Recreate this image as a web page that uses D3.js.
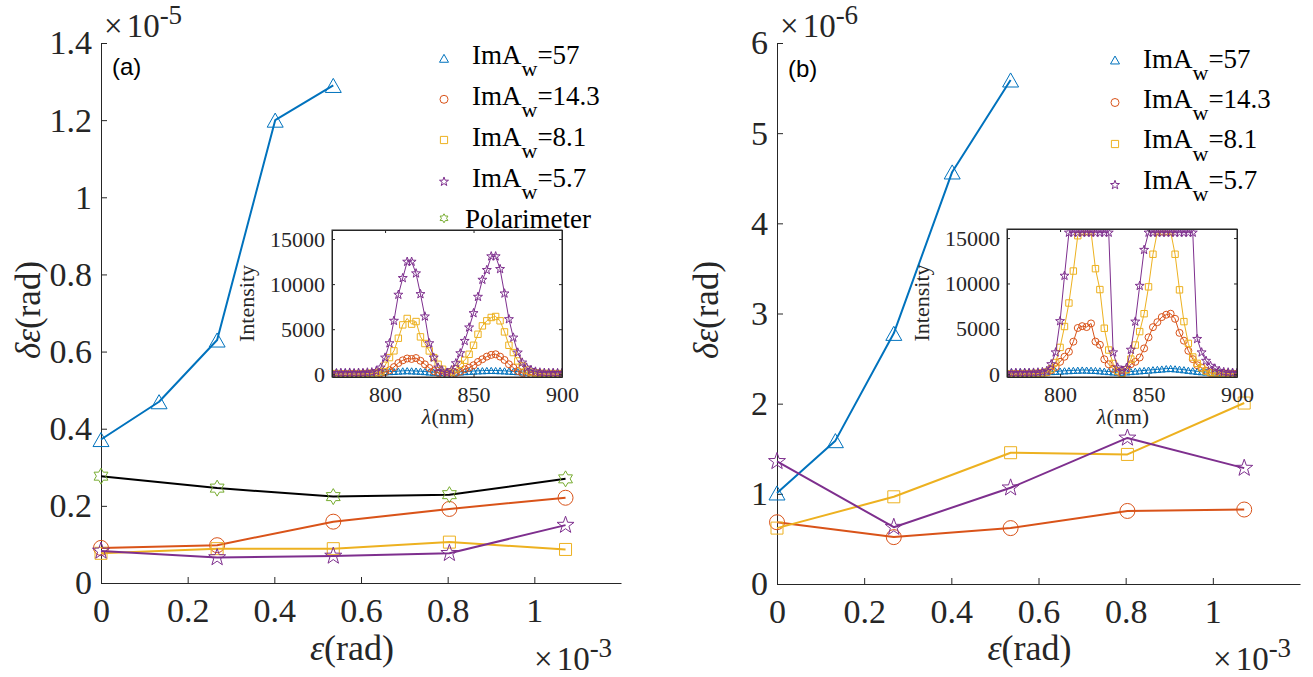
<!DOCTYPE html>
<html><head><meta charset="utf-8">
<script src="https://cdn.jsdelivr.net/npm/d3@7"></script>
<style>
body{margin:0;background:#fff;}
svg{display:block;}
</style></head>
<body>
<svg id="chart" width="1313" height="677"></svg>
<script>
// ---------------- DATA ----------------
// main x values (units of 1e-3 rad)
const epsAll = [0, 0.268, 0.536, 0.804, 1.072];
const epsBlue = [0, 0.134, 0.268, 0.402, 0.536];
// panel (a), delta-eps in units of 1e-5 rad
const a_w57  = [0.372, 0.47, 0.63, 1.2, 1.29];
const a_w143 = [0.091, 0.098, 0.159, 0.192, 0.221];
const a_w81  = [0.077, 0.089, 0.089, 0.106, 0.087];
const a_w57b = [0.083, 0.066, 0.070, 0.077, 0.150];
const a_pol  = [0.277, 0.246, 0.224, 0.229, 0.270];
// panel (b), delta-eps in units of 1e-6 rad
const b_w57  = [1.01, 1.59, 2.78, 4.57, 5.59];
const b_w143 = [0.685, 0.52, 0.62, 0.81, 0.826];
const b_w81  = [0.62, 0.967, 1.456, 1.437, 2.007];
const b_w57b = [1.36, 0.63, 1.067, 1.62, 1.285];

const legendLabels = ["57", "14.3", "8.1", "5.7"];
const xTicks = [0, 0.2, 0.4, 0.6, 0.8, 1];
const xTickLabels = ["0", "0.2", "0.4", "0.6", "0.8", "1"];
const yTicksA = [0, 0.2, 0.4, 0.6, 0.8, 1, 1.2, 1.4];
const yTickLabelsA = ["0", "0.2", "0.4", "0.6", "0.8", "1", "1.2", "1.4"];
const yTicksB = [0, 1, 2, 3, 4, 5, 6];
const yTickLabelsB = ["0", "1", "2", "3", "4", "5", "6"];

// inset spectra
const lambda = [770, 772.5, 775, 777.5, 780, 782.5, 785, 787.5, 790, 792.5, 795, 797.5, 800, 802.5, 805, 807.5, 810, 812.5, 815, 817.5, 820, 822.5, 825, 827.5, 830, 832.5, 835, 837.5, 840, 842.5, 845, 847.5, 850, 852.5, 855, 857.5, 860, 862.5, 865, 867.5, 870, 872.5, 875, 877.5, 880, 882.5, 885, 887.5, 890, 892.5, 895, 897.5, 900];
const insetXTicks = [800, 850, 900];
const insetYTicks = [0, 5000, 10000, 15000];

const specA_w57 = [200,250,180,230,200,240,190,220,200,230,210,250,280,300,320,350,380,400,380,360,340,300,260,230,210,200,180,200,230,260,300,330,360,380,400,420,430,420,400,380,350,320,290,260,230,210,200,220,190,210,200,220,200];
const specA_w143 = [-150,-100,-180,-120,-160,-100,-140,-90,-60,0,50,120,250,450,800,1250,1550,1750,1700,1800,1500,1100,700,350,150,30,-50,50,150,300,560,740,1000,1370,1670,1960,2150,2220,1960,1590,1110,740,370,150,30,-50,-100,-80,-120,-100,-150,-90,-120];
const specA_w81 = [50,80,40,60,70,50,80,60,90,120,180,300,1000,1850,2600,4000,5480,6190,5560,5850,4150,3410,2590,1850,1110,560,220,250,600,1110,1560,2220,3220,4440,5370,5930,6300,6410,5930,4700,3220,2410,1480,930,480,250,150,100,80,90,60,80,70];
const specA_w57b = [150,120,160,140,180,130,170,150,200,220,350,740,1850,3440,5930,8820,10670,12480,12480,11190,8890,6410,3440,1850,740,300,180,450,1220,2330,3700,5190,6780,8590,10480,11560,13080,13080,11670,8960,6110,4070,2410,1300,740,480,300,200,170,150,160,140,150];

const specB_w57 = [200,260,220,280,240,270,230,260,250,280,300,320,350,380,400,430,450,470,460,440,420,380,340,300,260,240,230,260,300,340,380,420,460,500,540,580,620,640,600,560,500,440,380,320,280,250,230,250,220,240,220,230,210];
const specB_w143 = [-100,-150,-80,-120,-60,-100,-50,0,80,200,450,800,1370,1930,2480,3590,5100,5300,5200,5600,3600,3250,1650,1100,600,300,100,500,1110,1370,1850,2850,4070,5190,5740,6300,6560,6670,6110,4560,3700,2590,1670,1000,740,400,150,50,0,-50,-80,-60,-100];
const specB_w81 = [50,70,40,60,80,60,90,100,150,250,600,1300,2960,5260,7850,11370,15260,15700,15700,15700,11630,9330,5070,2670,1190,370,100,500,1670,3220,4700,6670,9630,13220,15700,15700,15700,15700,13220,9300,5800,3400,1900,1200,700,350,200,120,100,90,80,70,60];
const specB_w57b = [150,130,160,140,170,150,180,200,250,370,1110,2410,5850,10850,15600,15600,15600,15600,15600,15600,15600,15600,15600,15600,2410,740,370,700,2700,5800,9740,13700,15600,15600,15600,15600,15600,15600,15600,15600,15600,15600,15600,3890,2410,1480,930,630,370,250,200,170,150];

// ---------------- STYLE ----------------
const C = {blue:"#0072BD", orange:"#D95319", yellow:"#EDB120", purple:"#7E2F8E", green:"#77AC30", black:"#000000", axis:"#262626"};
const SERIF = '"Liberation Serif", "Times New Roman", Times, serif';
const SANS = '"Liberation Sans", Arial, Helvetica, sans-serif';

function markerPath(type, d) {
  const r = d / 2;
  if (type === "tri") { const h = d * 0.88; return `M0,${-h/2}L${r},${h/2}L${-r},${h/2}Z`; }
  if (type === "circ") return `M${r},0A${r},${r} 0 1,1 ${-r},0A${r},${r} 0 1,1 ${r},0Z`;
  if (type === "sq") { const s = r * 0.8; return `M${-s},${-s}H${s}V${s}H${-s}Z`; }
  let n, ro, ri;
  if (type === "star5") { n = 5; ro = r * 1.05; ri = ro * 0.4; }
  else { n = 6; ro = r; ri = r * 0.577; }
  let p = "";
  for (let i = 0; i < 2 * n; i++) {
    const a = -Math.PI / 2 + i * Math.PI / n;
    const rr = i % 2 === 0 ? ro : ri;
    p += (i === 0 ? "M" : "L") + (rr * Math.cos(a)).toFixed(2) + "," + (rr * Math.sin(a)).toFixed(2);
  }
  return p + "Z";
}

const svg = d3.select("#chart");
svg.append("rect").attr("width", 1313).attr("height", 677).attr("fill", "#fff");

function txt(g, fs, family) {
  return g.append("text").style("font-family", family || SERIF).style("font-size", fs + "px").style("fill", "#262626");
}

function drawSeries(g, x, y, xs, ys, lineColor, markColor, type, size, lw, mlw) {
  const pts = xs.map((v, i) => [v, ys[i]]);
  g.append("path").datum(pts)
    .attr("d", d3.line().x(d => x(d[0])).y(d => y(d[1])))
    .attr("fill", "none").attr("stroke", lineColor).attr("stroke-width", lw).attr("stroke-linejoin", "round");
  g.selectAll(null).data(pts).enter().append("path")
    .attr("d", markerPath(type, size))
    .attr("transform", d => `translate(${x(d[0])},${y(d[1])})`)
    .attr("fill", "none").attr("stroke", markColor).attr("stroke-width", mlw);
}

function styleAxis(sel, fs) {
  sel.attr("font-family", null).attr("font-size", null);
  sel.select(".domain").attr("stroke", C.axis).attr("stroke-width", 1);
  sel.selectAll(".tick line").attr("stroke", C.axis).attr("stroke-width", 1);
  sel.selectAll(".tick text").style("font-family", SERIF).style("font-size", fs + "px").style("fill", C.axis);
}

function expLabel(g, x, y, exp) {
  const t = txt(g, 33).attr("x", x).attr("y", y);
  t.append("tspan").text("×");
  t.append("tspan").attr("dx", 4).text("10");
  t.append("tspan").attr("dy", -13).style("font-size", "27px").text(exp);
}

function mainPanel(cfg) {
  const x = d3.scaleLinear().domain([0, 1.2]).range([cfg.x0, cfg.x1]);
  const y = d3.scaleLinear().domain([0, cfg.ymax]).range([cfg.y0, cfg.y1]);
  const g = svg.append("g");
  const ax = g.append("g").attr("transform", `translate(0,${cfg.y0})`)
    .call(d3.axisBottom(x).tickValues(xTicks).tickFormat((d, i) => xTickLabels[i]).tickSizeInner(-6).tickSizeOuter(0).tickPadding(15));
  styleAxis(ax, 34);
  ax.selectAll(".tick text").attr("dy", "0.71em");
  const ay = g.append("g").attr("transform", `translate(${cfg.x0},0)`)
    .call(d3.axisLeft(y).tickValues(cfg.yTicks).tickFormat((d, i) => cfg.yLabels[i]).tickSizeInner(-6).tickSizeOuter(0).tickPadding(9));
  styleAxis(ay, 34);
  cfg.series.forEach(s => drawSeries(g, x, y, s.xs, s.ys, s.line, s.mark, s.type, s.size, 2, 1));
  expLabel(g, cfg.x0 + 3, 37, cfg.yExp);
  expLabel(g, cfg.x1 - 87, 670, "-3");
  const yl = txt(g, 35).attr("transform", `translate(${cfg.ylx},310) rotate(-90)`).attr("text-anchor", "middle");
  yl.append("tspan").style("font-style", "italic").text("δε");
  yl.append("tspan").text("(rad)");
  const xl = txt(g, 36).attr("x", (cfg.x0 + cfg.x1) / 2 - 9).attr("y", 660).attr("text-anchor", "middle");
  xl.append("tspan").style("font-style", "italic").text("ε");
  xl.append("tspan").text("(rad)");
  txt(g, 24, SANS).attr("x", cfg.x0 + 11).attr("y", cfg.letterY).style("fill", "#000").text(cfg.letter);
  cfg.legend.forEach((L, i) => {
    g.append("path").attr("d", markerPath(L.type, L.size))
      .attr("transform", `translate(${cfg.legX},${cfg.legMarkY[i]})`)
      .attr("fill", "none").attr("stroke", L.color).attr("stroke-width", 1);
    const t = txt(g, 27).attr("x", L.tx).attr("y", cfg.legTextY[i]).style("fill", "#000");
    if (L.sub) {
      t.append("tspan").text("ImA");
      t.append("tspan").attr("dy", 12.5).style("font-size", "22px").text("w");
      t.append("tspan").attr("dy", -12.5).text("=" + L.value);
    } else {
      t.text(L.value);
    }
  });
}

function inset(cfg) {
  const x = d3.scaleLinear().domain([770, 900]).range([cfg.x0, cfg.x1]);
  const y = d3.scaleLinear().domain([-300, 16000]).range([cfg.y0, cfg.y1]);
  const g = svg.append("g");
  const id = "clip" + cfg.x0;
  svg.append("clipPath").attr("id", id).append("rect")
    .attr("x", cfg.x0).attr("y", cfg.y1).attr("width", cfg.x1 - cfg.x0).attr("height", cfg.y0 - cfg.y1);
  g.append("rect").attr("x", cfg.x0).attr("y", cfg.y1).attr("width", cfg.x1 - cfg.x0).attr("height", cfg.y0 - cfg.y1).attr("fill", "#fff");
  const plot = g.append("g").attr("clip-path", `url(#${id})`);
  cfg.series.forEach(s => drawSeries(plot, x, y, lambda, s.ys, s.color, s.color, s.type, s.size, 1, 1));
  const ax = g.append("g").attr("transform", `translate(0,${cfg.y0})`)
    .call(d3.axisBottom(x).tickValues(insetXTicks).tickSizeInner(-3).tickSizeOuter(0).tickPadding(9));
  styleAxis(ax, 22); ax.selectAll(".tick text").attr("dy", "0.71em");
  const axt = g.append("g").attr("transform", `translate(0,${cfg.y1})`)
    .call(d3.axisTop(x).tickValues(insetXTicks).tickSizeInner(-3).tickSizeOuter(0).tickFormat(""));
  styleAxis(axt, 22);
  const ay = g.append("g").attr("transform", `translate(${cfg.x0},0)`)
    .call(d3.axisLeft(y).tickValues(insetYTicks).tickSizeInner(-3).tickSizeOuter(0).tickPadding(7).tickFormat(d3.format("d")));
  styleAxis(ay, 22);
  const ayr = g.append("g").attr("transform", `translate(${cfg.x1},0)`)
    .call(d3.axisRight(y).tickValues(insetYTicks).tickSizeInner(-3).tickSizeOuter(0).tickFormat(""));
  styleAxis(ayr, 22);
  g.append("rect").attr("x", cfg.x0).attr("y", cfg.y1).attr("width", cfg.x1 - cfg.x0).attr("height", cfg.y0 - cfg.y1)
    .attr("fill", "none").attr("stroke", C.axis).attr("stroke-width", 1);
  txt(g, 22).attr("transform", `translate(${cfg.x0 - 78},${(cfg.y0 + cfg.y1) / 2}) rotate(-90)`).attr("text-anchor", "middle").text("Intensity");
  const xl = txt(g, 22).attr("x", (cfg.x0 + cfg.x1) / 2 + 1).attr("y", 424).attr("text-anchor", "middle");
  xl.append("tspan").style("font-style", "italic").text("λ");
  xl.append("tspan").text("(nm)");
}

mainPanel({
  x0: 101, x1: 621, y0: 583, y1: 43, ymax: 1.4, yTicks: yTicksA, yLabels: yTickLabelsA, yExp: "-5",
  ylx: 40, letter: "(a)", letterY: 75,
  series: [
    {xs: epsBlue, ys: a_w57, line: C.blue, mark: C.blue, type: "tri", size: 16},
    {xs: epsAll, ys: a_w143, line: C.orange, mark: C.orange, type: "circ", size: 15},
    {xs: epsAll, ys: a_w81, line: C.yellow, mark: C.yellow, type: "sq", size: 15},
    {xs: epsAll, ys: a_w57b, line: C.purple, mark: C.purple, type: "star5", size: 17},
    {xs: epsAll, ys: a_pol, line: C.black, mark: C.green, type: "star6", size: 16}
  ],
  legX: 444, legMarkY: [58.3, 99.3, 140, 181.7, 218.3], legTextY: [63.5, 104.5, 145.5, 186.5, 227.5],
  legend: [
    {type: "tri", size: 9, color: C.blue, sub: true, value: legendLabels[0], tx: 472},
    {type: "circ", size: 8, color: C.orange, sub: true, value: legendLabels[1], tx: 472},
    {type: "sq", size: 9, color: C.yellow, sub: true, value: legendLabels[2], tx: 472},
    {type: "star5", size: 9, color: C.purple, sub: true, value: legendLabels[3], tx: 472},
    {type: "star6", size: 9, color: C.green, sub: false, value: "Polarimeter", tx: 465}
  ]
});
mainPanel({
  x0: 777, x1: 1300, y0: 584, y1: 43, ymax: 6, yTicks: yTicksB, yLabels: yTickLabelsB, yExp: "-6",
  ylx: 718, letter: "(b)", letterY: 77,
  series: [
    {xs: epsBlue, ys: b_w57, line: C.blue, mark: C.blue, type: "tri", size: 16},
    {xs: epsAll, ys: b_w143, line: C.orange, mark: C.orange, type: "circ", size: 15},
    {xs: epsAll, ys: b_w81, line: C.yellow, mark: C.yellow, type: "sq", size: 15},
    {xs: epsAll, ys: b_w57b, line: C.purple, mark: C.purple, type: "star5", size: 17}
  ],
  legX: 1115, legMarkY: [60, 102.5, 144, 185], legTextY: [67.5, 107.8, 148.3, 188.5],
  legend: [
    {type: "tri", size: 9, color: C.blue, sub: true, value: legendLabels[0], tx: 1143},
    {type: "circ", size: 8, color: C.orange, sub: true, value: legendLabels[1], tx: 1143},
    {type: "sq", size: 9, color: C.yellow, sub: true, value: legendLabels[2], tx: 1143},
    {type: "star5", size: 9, color: C.purple, sub: true, value: legendLabels[3], tx: 1143}
  ]
});
inset({x0: 332, x1: 562, y0: 377, y1: 230, series: [
  {ys: specA_w57, color: C.blue, type: "tri", size: 7},
  {ys: specA_w143, color: C.orange, type: "circ", size: 7},
  {ys: specA_w81, color: C.yellow, type: "sq", size: 8},
  {ys: specA_w57b, color: C.purple, type: "star5", size: 9}
]});
inset({x0: 1007, x1: 1237, y0: 377, y1: 229, series: [
  {ys: specB_w57, color: C.blue, type: "tri", size: 7},
  {ys: specB_w143, color: C.orange, type: "circ", size: 7},
  {ys: specB_w81, color: C.yellow, type: "sq", size: 8},
  {ys: specB_w57b, color: C.purple, type: "star5", size: 9}
]});
</script>
</body></html>
